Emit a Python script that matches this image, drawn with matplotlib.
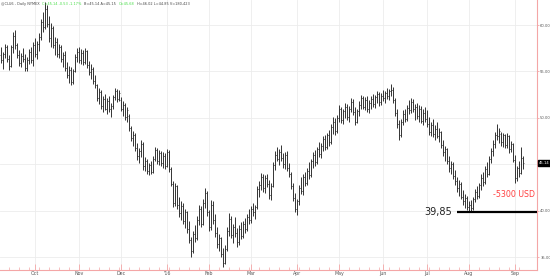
import matplotlib.pyplot as plt
import pandas as pd

# daily bars, 2015-09-08 .. 2016-09-07 (weekdays)
opens = [
    56.8, 56.2, 56.9, 57.6, 56.3, 55.6, 57.6, 58.8, 57.8, 56.8,
    55.9, 56.7, 56.3, 55.4, 56.2, 57.1, 56.2, 57.9, 56.9, 58.0,
    58.7, 60.3, 59.8, 61.7, 60.1, 58.6, 59.7, 57.9, 58.2, 56.9,
    57.6, 56.3, 56.8, 55.4, 54.6, 55.2, 53.9, 55.0, 56.6, 57.1,
    56.2, 57.0, 56.0, 57.2, 55.7, 54.9, 55.3, 54.0, 53.5, 52.1,
    52.8, 51.3, 52.0, 51.0, 51.8, 50.9, 51.3, 52.2, 52.9, 52.0,
    51.9, 51.0, 51.4, 50.1, 50.2, 48.9, 47.8, 48.2, 46.7, 45.9,
    46.4, 47.2, 44.8, 45.4, 44.3, 44.9, 44.2, 45.6, 46.5, 45.3,
    46.2, 45.1, 45.9, 44.8, 46.3, 44.5, 42.9, 40.8, 42.6, 40.6,
    39.7, 40.5, 38.9, 39.8, 38.0, 36.8, 35.6, 37.5, 37.0, 39.0,
    40.2, 38.6, 40.8, 41.9, 39.8, 38.2, 40.6, 39.0, 37.6, 36.4,
    37.0, 35.3, 34.4, 35.9, 37.8, 39.1, 37.4, 38.2, 37.6, 36.6,
    38.0, 37.3, 38.6, 38.0, 39.3, 39.0, 40.2, 39.8, 40.4, 42.3,
    42.8, 43.6, 42.4, 43.5, 42.9, 41.7, 42.7, 44.9, 46.0, 45.6,
    46.3, 45.7, 45.0, 46.0, 44.6, 43.9, 42.6, 41.4, 40.2, 41.0,
    42.4, 42.1, 43.6, 43.0, 44.3, 43.8, 45.3, 46.0, 45.2, 46.6,
    46.1, 47.0, 47.7, 46.9, 48.1, 47.4, 49.0, 49.6, 48.6, 50.0,
    50.9, 49.8, 50.7, 51.2, 50.1, 51.0, 51.7, 50.6, 49.6, 50.7,
    51.4, 52.1, 51.2, 51.9, 50.9, 51.6, 52.0, 51.5, 52.2, 52.6,
    51.7, 52.4, 52.1, 52.7, 52.4, 52.9, 53.0, 51.9, 50.5, 49.3,
    48.1, 49.6, 50.4, 49.9, 51.1, 50.8, 51.7, 50.9, 51.2, 50.2,
    51.0, 49.7, 50.5, 49.9, 49.3, 48.5, 49.2, 48.3, 48.8, 48.0,
    48.5, 47.1, 46.3, 46.6, 45.3, 44.6, 45.0, 43.7, 43.2, 42.4,
    42.9, 41.5, 41.0, 41.4, 40.4, 40.6, 40.3, 41.2, 42.0, 41.6,
    42.8, 43.5, 43.1, 44.5, 44.0, 45.6, 46.4, 47.2, 48.2, 48.0,
    48.3, 47.4, 48.1, 47.1, 48.0, 46.6, 47.2, 45.5, 43.5, 44.6, 44.1, 45.7,
]
highs = [
    57.6, 57.1, 58.0, 57.9, 56.8, 57.9, 59.2, 59.5, 58.1, 57.3,
    57.0, 57.5, 56.9, 56.6, 57.4, 57.6, 58.2, 58.6, 58.3, 59.1,
    60.6, 61.4, 62.5, 62.2, 61.0, 60.2, 59.9, 58.7, 58.6, 58.0,
    57.8, 57.1, 57.2, 56.0, 55.6, 55.5, 55.3, 56.9, 57.5, 57.6,
    57.4, 57.3, 57.5, 57.3, 56.1, 55.8, 55.5, 54.6, 53.6, 53.2,
    53.0, 52.4, 52.6, 52.1, 52.3, 51.6, 52.5, 53.2, 53.1, 53.0,
    52.2, 51.8, 51.6, 51.2, 50.4, 49.1, 48.6, 48.4, 47.3, 46.8,
    47.6, 47.4, 45.8, 45.6, 45.1, 45.3, 45.9, 46.9, 46.7, 46.5,
    46.4, 46.3, 46.2, 46.6, 46.5, 44.7, 43.2, 43.0, 42.8, 41.5,
    41.0, 40.8, 40.2, 40.0, 38.9, 37.2, 37.8, 38.4, 39.4, 40.6,
    40.5, 41.2, 42.4, 42.1, 40.1, 41.1, 41.0, 39.6, 38.2, 37.5,
    37.2, 36.0, 36.3, 38.2, 39.7, 39.4, 38.6, 39.3, 38.1, 38.4,
    38.8, 38.9, 39.2, 39.6, 40.2, 40.5, 40.8, 40.6, 42.6, 43.2,
    44.1, 43.9, 43.8, 44.0, 43.3, 43.0, 45.2, 46.4, 46.9, 46.6,
    47.1, 46.2, 46.3, 46.4, 45.1, 44.2, 43.0, 41.9, 41.3, 42.8,
    43.6, 43.9, 44.2, 44.6, 45.2, 45.6, 46.3, 46.5, 46.9, 47.4,
    47.3, 48.0, 48.2, 48.4, 48.7, 49.3, 50.1, 50.0, 50.3, 51.4,
    51.2, 51.0, 51.6, 51.5, 51.3, 52.1, 52.0, 51.2, 51.0, 51.8,
    52.5, 52.4, 52.2, 52.3, 51.9, 52.4, 52.6, 52.5, 52.9, 52.8,
    52.7, 53.0, 52.9, 53.2, 53.1, 53.6, 53.3, 52.1, 51.0, 49.8,
    49.9, 50.8, 51.0, 51.4, 51.9, 52.1, 52.0, 51.5, 51.6, 51.4,
    51.3, 50.9, 51.2, 50.8, 50.1, 49.6, 49.9, 49.2, 49.5, 48.9,
    48.6, 47.6, 47.0, 46.8, 45.9, 45.4, 45.2, 44.4, 43.6, 43.3,
    43.1, 42.2, 41.8, 41.6, 41.0, 41.1, 41.5, 42.3, 42.6, 43.0,
    43.9, 44.2, 44.8, 45.2, 45.9, 46.8, 47.6, 48.5, 49.3, 48.9,
    48.5, 48.4, 48.3, 48.4, 48.2, 47.5, 47.3, 46.0, 44.8, 45.3, 46.9, 45.9,
]
lows = [
    55.9, 55.3, 56.4, 56.0, 55.2, 55.5, 57.0, 57.4, 56.5, 55.6,
    55.5, 56.0, 55.1, 55.0, 55.8, 55.9, 55.6, 56.6, 56.3, 57.2,
    58.4, 59.3, 59.6, 59.8, 58.2, 57.6, 57.5, 56.8, 56.6, 56.5,
    56.0, 55.5, 55.1, 54.3, 53.8, 53.5, 53.6, 54.9, 56.0, 55.9,
    55.8, 55.7, 55.8, 55.4, 54.6, 54.2, 53.7, 53.2, 51.8, 51.5,
    51.0, 50.6, 50.8, 50.4, 50.6, 50.1, 50.9, 51.9, 51.7, 51.8,
    50.7, 50.2, 49.8, 49.5, 48.6, 47.5, 47.0, 46.4, 45.5, 45.1,
    45.8, 44.4, 44.3, 44.0, 43.8, 43.9, 44.1, 45.3, 45.0, 44.9,
    44.8, 44.6, 44.5, 44.7, 44.2, 42.6, 40.4, 40.5, 40.2, 39.3,
    39.0, 38.6, 38.1, 37.6, 36.5, 35.0, 35.4, 36.6, 36.8, 38.5,
    38.2, 38.4, 40.3, 39.4, 37.8, 37.9, 38.6, 37.2, 36.0, 35.6,
    35.0, 33.9, 34.2, 35.7, 37.3, 37.0, 36.5, 37.2, 36.1, 36.3,
    36.9, 37.0, 37.6, 37.8, 38.6, 38.7, 39.4, 39.1, 40.2, 41.5,
    42.2, 42.0, 41.9, 42.5, 41.3, 41.1, 42.5, 44.4, 45.3, 44.9,
    45.4, 44.6, 44.5, 44.3, 43.6, 42.3, 41.0, 39.9, 39.5, 40.6,
    41.8, 41.7, 42.6, 42.8, 43.4, 43.6, 44.6, 44.8, 45.0, 45.8,
    45.7, 46.4, 46.5, 46.6, 47.0, 47.2, 48.3, 48.2, 48.4, 49.6,
    49.4, 49.3, 50.0, 49.8, 49.5, 50.6, 50.3, 49.2, 49.4, 50.2,
    51.0, 50.9, 50.8, 50.6, 50.5, 50.9, 51.2, 51.1, 51.6, 51.3,
    51.4, 51.8, 51.6, 52.0, 51.9, 52.3, 51.6, 50.2, 48.9, 47.6,
    47.9, 49.2, 49.5, 49.7, 50.4, 50.5, 50.6, 49.8, 49.9, 49.6,
    49.4, 49.2, 49.6, 49.0, 48.1, 48.0, 47.9, 47.6, 47.8, 47.4,
    46.8, 45.9, 45.4, 45.0, 44.2, 43.9, 43.4, 42.8, 42.0, 41.6,
    41.2, 40.6, 40.3, 40.1, 40.0, 39.85, 40.1, 40.9, 41.2, 41.4,
    42.2, 42.7, 42.9, 43.6, 43.8, 45.1, 45.9, 46.8, 47.6, 47.3,
    47.0, 46.9, 46.8, 46.7, 46.2, 46.3, 45.2, 43.0, 43.2, 43.6, 43.9, 44.5,
]
closes = [
    56.2, 56.9, 57.6, 56.3, 55.6, 57.6, 58.8, 57.8, 56.8, 55.9,
    56.7, 56.3, 55.4, 56.2, 57.1, 56.2, 57.9, 56.9, 58.0, 58.7,
    60.3, 59.8, 61.7, 60.1, 58.6, 59.7, 57.9, 58.2, 56.9, 57.6,
    56.3, 56.8, 55.4, 54.6, 55.2, 53.9, 55.0, 56.6, 57.1, 56.2,
    57.0, 56.0, 57.2, 55.7, 54.9, 55.3, 54.0, 53.5, 52.1, 52.8,
    51.3, 52.0, 51.0, 51.8, 50.9, 51.3, 52.2, 52.9, 52.0, 52.7,
    51.0, 51.4, 50.1, 50.8, 48.9, 47.8, 48.2, 46.7, 45.9, 46.4,
    47.2, 44.8, 45.4, 44.3, 44.9, 44.2, 45.6, 46.5, 45.3, 46.2,
    45.1, 45.9, 44.8, 46.3, 44.5, 42.9, 40.8, 42.6, 40.6, 39.7,
    40.5, 38.9, 39.8, 38.0, 36.8, 35.6, 37.5, 37.0, 39.0, 40.2,
    38.6, 40.8, 41.9, 39.8, 38.2, 40.6, 39.0, 37.6, 36.4, 37.0,
    35.3, 34.4, 35.9, 37.8, 39.1, 37.4, 38.2, 37.6, 36.6, 38.0,
    37.3, 38.6, 38.0, 39.3, 39.0, 40.2, 39.8, 40.4, 42.3, 42.8,
    43.6, 42.4, 43.5, 42.9, 41.7, 42.7, 44.9, 46.0, 45.6, 46.3,
    45.7, 45.0, 46.0, 44.6, 43.9, 42.6, 41.4, 40.2, 41.0, 42.4,
    42.1, 43.6, 43.0, 44.3, 43.8, 45.3, 46.0, 45.2, 46.6, 46.1,
    47.0, 47.7, 46.9, 48.1, 47.4, 49.0, 49.6, 48.6, 50.0, 50.9,
    49.8, 50.7, 51.2, 50.1, 51.0, 51.7, 50.6, 49.6, 50.7, 51.4,
    52.1, 51.2, 51.9, 50.9, 51.6, 52.0, 51.5, 52.2, 52.6, 51.7,
    52.4, 52.1, 52.7, 52.4, 52.9, 53.0, 51.9, 50.5, 49.3, 48.1,
    49.6, 50.4, 49.9, 51.1, 50.8, 51.7, 50.9, 51.2, 50.2, 51.0,
    49.7, 50.5, 49.9, 49.3, 48.5, 49.2, 48.3, 48.8, 48.0, 48.5,
    47.1, 46.3, 46.6, 45.3, 44.6, 45.0, 43.7, 43.2, 42.4, 42.9,
    41.5, 41.0, 41.4, 40.4, 40.6, 40.3, 41.2, 42.0, 41.6, 42.8,
    43.5, 43.1, 44.5, 44.0, 45.6, 46.4, 47.2, 48.2, 48.0, 48.6,
    47.4, 48.1, 47.1, 48.0, 46.6, 47.2, 45.5, 43.5, 44.6, 44.1, 45.7, 45.14,
]

dates = pd.bdate_range("2015-09-08", "2016-09-07")
month_labels = ["Oct", "Nov", "Dec", "'16", "Feb", "Mar", "Apr",
                "May", "Jun", "Jul", "Aug", "Sep"]
price_levels = [35, 40, 45, 50, 55, 60]
support = 39.85
loss_text = "-5300 USD"
last_price = 45.14
header = [("@CLU6 - Daily NYMEX", "#444444"), ("C=45.14 -0.53 -1.17%", "#44dd44"),
          ("B=45.14 A=45.15", "#444444"), ("O=45.68", "#44dd44"),
          ("H=46.02 L=44.85 V=180,423", "#444444")]

pink = "#f4a6a6"
bar_col = "#333333"

fig = plt.figure(figsize=(5.5, 2.78), dpi=100)
ax = fig.add_axes([0, 8 / 278, 537 / 550, 270 / 278])

x = list(range(len(closes)))

# month starts
month_pos = []
for i in range(1, len(dates)):
    if dates[i].month != dates[i - 1].month:
        month_pos.append(i)

# grid
for p in month_pos:
    ax.axvline(p, color="#ececec", lw=0.6, zorder=0)
for lv in price_levels:
    ax.axhline(lv, color="#ececec", lw=0.6, zorder=0)

# OHLC bars
ax.vlines(x, lows, highs, color=bar_col, lw=0.7)
ax.hlines(opens, [i - 0.7 for i in x], x, color=bar_col, lw=0.5)
ax.hlines(closes, x, [i + 0.7 for i in x], color=bar_col, lw=0.5)

ax.set_xlim(-0.5, 268)
ax.set_ylim(33.6, 62.7)

for s in ["top", "left"]:
    ax.spines[s].set_visible(False)
for s in ["right", "bottom"]:
    ax.spines[s].set_color(pink)
    ax.spines[s].set_linewidth(0.8)

ax.yaxis.tick_right()
ax.set_yticks([v for v in price_levels if v != 45])
ax.set_yticklabels([f"{v:.2f}" for v in price_levels if v != 45])
ax.tick_params(axis="y", colors=pink, labelcolor="#555555", labelsize=2.7,
               length=1.5, width=0.6, pad=0.8)

ax.set_xticks(month_pos)
ax.set_xticklabels(month_labels)
ax.set_xticks([i for i, d in enumerate(dates) if d.weekday() == 0], minor=True)
ax.tick_params(axis="x", which="major", colors=pink, labelcolor="#555555",
               labelsize=3.4, length=4, width=0.6, direction="in", pad=1)
ax.tick_params(axis="x", which="minor", colors=pink, length=2.5, width=0.5,
               direction="in")

# last price box
ax.text(1.004, last_price, f"{last_price:.2f}", transform=ax.get_yaxis_transform(),
        ha="left", va="center", fontsize=2.7, color="white",
        bbox=dict(boxstyle="square,pad=0.3", fc="black", ec="black"))

# support line and annotations
ax.hlines(support, 228, 268, color="black", lw=1.6, zorder=5)
ax.text(225.5, support, "39,85", ha="right", va="center", fontsize=7, color="#222222")
ax.text(267, 41.7, loss_text, ha="right", va="center", fontsize=5.7, color="#ff4040")

# header, segments laid out one after another
fig.canvas.draw()
r = fig.canvas.get_renderer()
hx = 1
for txt, col in header:
    t = fig.text(hx / 550, 1 - 4 / 278, txt, fontsize=2.5, color=col, va="center")
    hx += t.get_window_extent(renderer=r).width + 2.5

fig.savefig("out.png", dpi=100)
